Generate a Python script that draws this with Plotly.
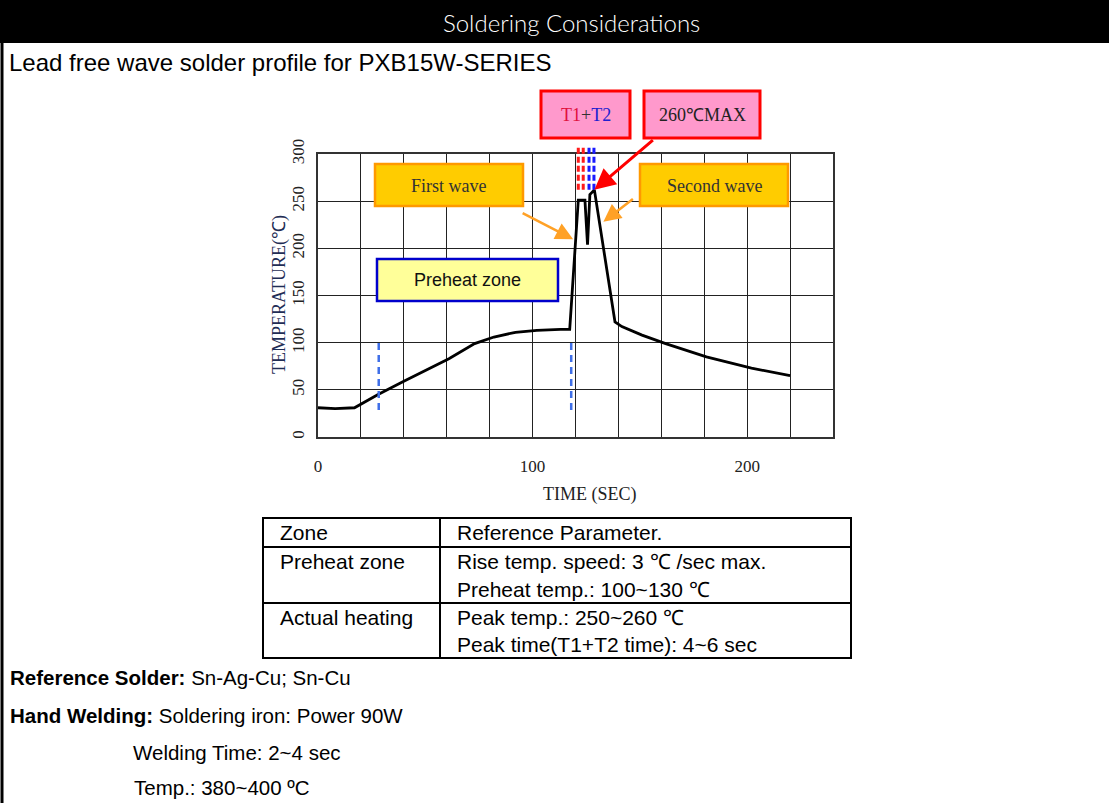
import plotly.graph_objects as go

# ---- wave solder profile (time in s, temperature in deg C) ----
time_s = [0, 8, 17, 28, 40, 54, 61, 73, 82, 92, 102, 113, 117.3,
          121.3, 124.4, 125.6, 126.7, 128.8, 138.4, 141.6, 151, 162, 181, 202, 220]
temp_c = [31, 30, 31, 45, 59, 75, 83, 99, 106, 111, 113, 114, 114,
          251, 251, 204, 257, 262, 122, 117, 108, 99, 85, 73, 65]

# preheat window markers (blue dashed)
preheat_marks_s = [28.3, 118]
preheat_mark_span_c = [28.6, 105]

# T1 / T2 peak-time markers above the waves
t1_marks_s = [121.3, 123.6]
t2_marks_s = [126.3, 128.6]
peak_mark_span_c = [262, 308]

# axis ticks
x_grid = list(range(0, 241, 20))
x_labels = ["0" if v == 0 else (str(v) if v in (100, 200) else "") for v in x_grid]
y_ticks = [0, 50, 100, 150, 200, 250, 300]

# annotated points
peak_point = (128.8, 262)
first_wave_point = (118.9, 209.6)
second_wave_point = (133.0, 228.2)

# parameter table
table_rows = [
    ("Zone", ["Reference Parameter."]),
    ("Preheat zone", ["Rise temp. speed: 3 \u2103 /sec max.", "Preheat temp.: 100~130 \u2103"]),
    ("Actual heating", ["Peak temp.: 250~260 \u2103", "Peak time(T1+T2 time): 4~6 sec"]),
]

W, H = 1109, 803
Y_MAX = 300


def px(x):
    return x / W


def py(y):
    return 1 - y / H


SANS = "Liberation Sans, Arial, sans-serif"
SERIF = "Liberation Serif, Times New Roman, serif"

fig = go.Figure()

fig.add_trace(go.Scatter(
    x=time_s, y=temp_c, mode="lines",
    line=dict(color="black", width=2.8), hoverinfo="skip", showlegend=False))

for t in preheat_marks_s:
    fig.add_trace(go.Scatter(
        x=[t, t], y=preheat_mark_span_c, mode="lines",
        line=dict(color="#3f6fe8", width=2.5, dash="7px,5px"),
        hoverinfo="skip", showlegend=False))

shapes = []
# peak-time markers extend above the plot frame, so they use the y domain
for marks, col in ((t1_marks_s, "#ff1a1a"), (t2_marks_s, "#1a1aff")):
    for t in marks:
        shapes.append(dict(
            type="line", xref="x", yref="y domain", x0=t, x1=t,
            y0=peak_mark_span_c[0] / Y_MAX, y1=peak_mark_span_c[1] / Y_MAX,
            line=dict(color=col, width=3, dash="6px,3px"), layer="above"))

# header bar and left frame
shapes.append(dict(type="rect", xref="paper", yref="paper",
                   x0=0, x1=1, y0=py(43), y1=1,
                   fillcolor="black", line=dict(width=0)))
shapes.append(dict(type="line", xref="paper", yref="paper",
                   x0=px(2), x1=px(2), y0=0, y1=py(43),
                   line=dict(color="black", width=3)))


def box(x0, x1, y0, y1, fill, edge, lw):
    shapes.append(dict(type="rect", xref="paper", yref="paper",
                       x0=px(x0), x1=px(x1), y0=py(y1), y1=py(y0),
                       fillcolor=fill, line=dict(color=edge, width=lw), layer="above"))


box(541, 630, 91, 138, "#ff99cc", "#ff0000", 3)
box(644, 760, 91, 138, "#ff99cc", "#ff0000", 3)
box(375, 523, 164, 206, "#ffcc00", "#ff9900", 2.5)
box(640, 788, 164, 206, "#ffcc00", "#ff9900", 2.5)
box(377, 558, 259, 301, "#ffff99", "#0000cc", 2.5)

# table frame
TL, TR, TT, TB, TC = 263, 851, 518, 658, 440
row_lines = [547, 603]
shapes.append(dict(type="rect", xref="paper", yref="paper",
                   x0=px(TL), x1=px(TR), y0=py(TB), y1=py(TT),
                   line=dict(color="black", width=2)))
for yl in row_lines:
    shapes.append(dict(type="line", xref="paper", yref="paper",
                       x0=px(TL), x1=px(TR), y0=py(yl), y1=py(yl),
                       line=dict(color="black", width=2)))
shapes.append(dict(type="line", xref="paper", yref="paper",
                   x0=px(TC), x1=px(TC), y0=py(TB), y1=py(TT),
                   line=dict(color="black", width=2)))

ann = []


def text(x, y, s, size, family, color="black", xanchor="left", angle=0, weight=None):
    font = dict(size=size, family=family, color=color)
    if weight:
        font["weight"] = weight
    ann.append(dict(xref="paper", yref="paper", x=px(x), y=py(y), text=s,
                    showarrow=False, xanchor=xanchor, yanchor="middle",
                    textangle=angle, font=font))


text(571, 22, "Soldering Considerations", 24,
     "Lato, Noto Sans, sans-serif", color="white", xanchor="center", weight=300)
text(7, 63, "Lead free wave solder profile for PXB15W-SERIES", 24, SANS)

text(585.5, 115, "<span style='color:#e0103c'>T1</span>+<span style='color:#2020d0'>T2</span>",
     18, SERIF, color="#333", xanchor="center")
text(702, 115, "260\u2103MAX", 18, SERIF, color="#222", xanchor="center")
text(449, 186, "First wave", 18, SERIF, color="#333", xanchor="center")
text(714, 186, "Second wave", 18, SERIF, color="#333", xanchor="center")
text(467.5, 280, "Preheat zone", 18, SANS, color="#111", xanchor="center")

text(590, 494, "TIME (SEC)", 18, SERIF, color="#222", xanchor="center")
text(279, 295, "TEMPERATURE(\u2103)", 18, SERIF, color="#1f2d55",
     xanchor="center", angle=-90)

row_centres = [[532], [561, 589], [617, 644]]
for (zone, params), ys in zip(table_rows, row_centres):
    text(278, ys[0], zone, 21, SANS)
    for p, yy in zip(params, ys):
        text(455, yy, p, 21, SANS)

text(8, 677, "<b>Reference Solder:</b> Sn-Ag-Cu; Sn-Cu", 20.5, SANS)
text(8, 715, "<b>Hand Welding:</b> Soldering iron: Power 90W", 20.5, SANS)
text(131, 752, "Welding Time: 2~4 sec", 20.5, SANS)
text(132, 787, "Temp.: 380~400 \u00baC", 20.5, SANS)

# arrows pointing at the waves and the peak
for (hx, hy), (dx, dy), col, w in (
        (peak_point, (60, -51), "#ff0000", 3),
        (first_wave_point, (-52, -27), "#ffa126", 2.5),
        (second_wave_point, (31, -24), "#ffa126", 2.5)):
    ann.append(dict(xref="x", yref="y", x=hx, y=hy, ax=dx, ay=dy, text="",
                    showarrow=True, arrowhead=2, arrowsize=1.4,
                    arrowwidth=w, arrowcolor=col))

fig.update_layout(
    width=W, height=H, margin=dict(l=0, r=0, t=0, b=0, pad=0, autoexpand=False),
    paper_bgcolor="white", plot_bgcolor="white",
    shapes=shapes, annotations=ann, showlegend=False,
    xaxis=dict(domain=[px(318), px(833)], range=[0, 240], automargin=False,
               tickmode="array", tickvals=x_grid, ticktext=x_labels,
               showgrid=True, gridcolor="#222", gridwidth=1.3,
               showline=True, linecolor="#333", linewidth=1.5, mirror=True,
               zeroline=False, ticks="", ticklabelstandoff=13,
               tickfont=dict(family=SERIF, size=17, color="#222")),
    yaxis=dict(domain=[py(437), py(154)], range=[0, Y_MAX], automargin=False,
               tickmode="array", tickvals=y_ticks,
               showgrid=True, gridcolor="#222", gridwidth=1.3,
               showline=True, linecolor="#333", linewidth=1.5, mirror=True,
               zeroline=False, ticks="", tickangle=-90, ticklabelstandoff=5,
               tickfont=dict(family=SERIF, size=17, color="#222")),
)

fig.write_html("out.html")
